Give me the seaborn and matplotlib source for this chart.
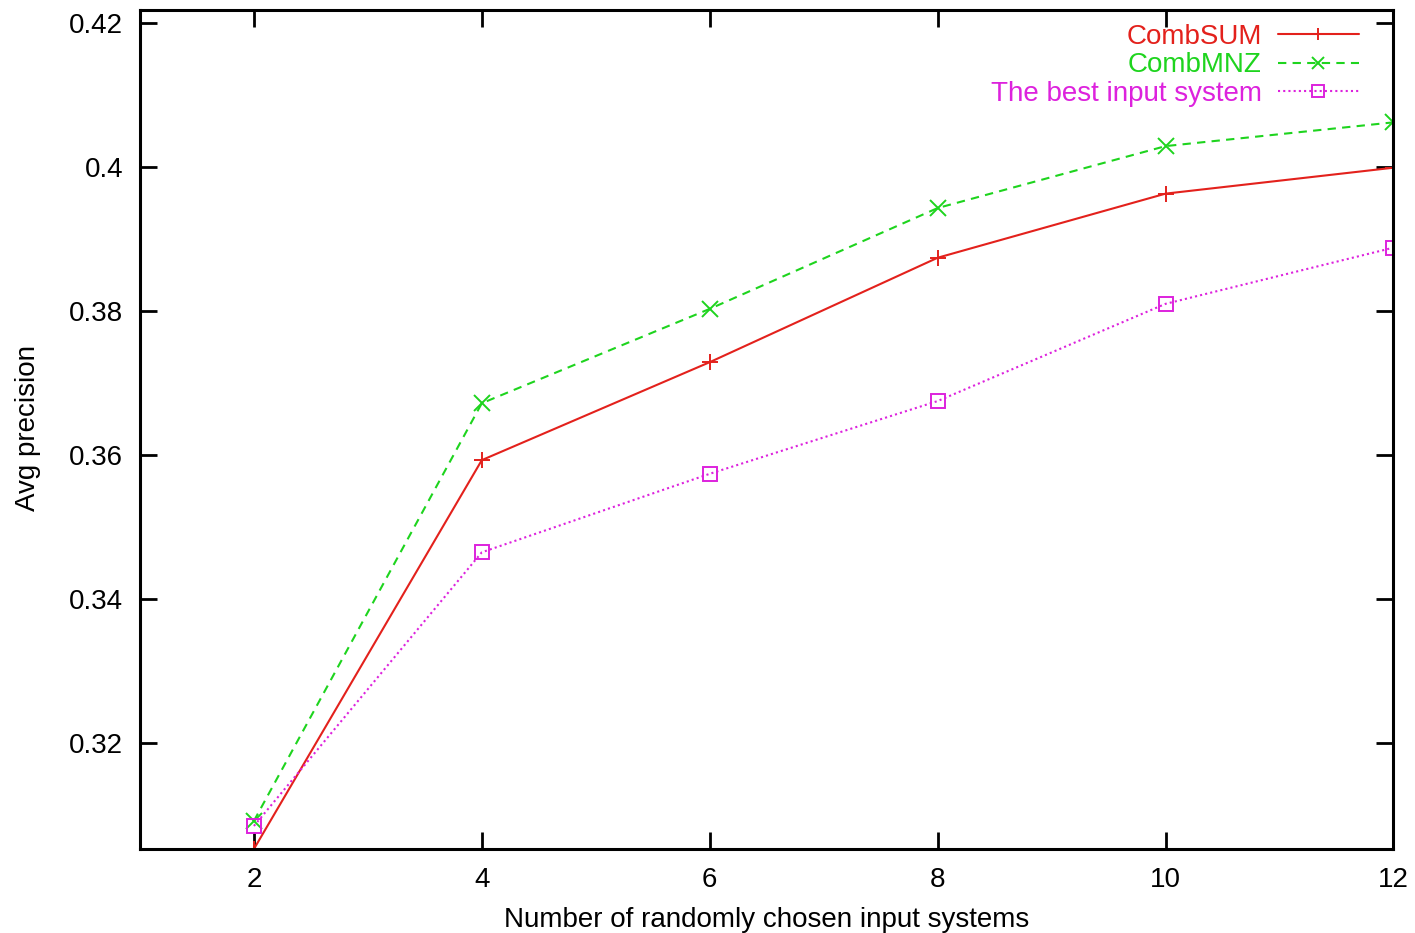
import matplotlib
matplotlib.use("Agg")
import matplotlib.pyplot as plt
import seaborn as sns
import pandas as pd

n_systems = [2, 4, 6, 8, 10, 12]
comb_sum = [0.3053, 0.3593, 0.3729, 0.3874, 0.3963, 0.3999]
comb_mnz = [0.3092, 0.3672, 0.3803, 0.3943, 0.4029, 0.4062]
best_input = [0.3085, 0.3465, 0.3574, 0.3675, 0.3810, 0.3888]

series = [
    ("CombSUM", comb_sum, "#e3211c", "-", "+"),
    ("CombMNZ", comb_mnz, "#1ed41e", (0, (4, 3)), "x"),
    ("The best input system", best_input, "#dd22dd", (0, (1, 1.5)), "s"),
]

sns.set_style("ticks")
plt.rcParams['font.family'] = ['Liberation Sans', 'DejaVu Sans']

f = plt.figure(figsize=(14.15, 9.33), dpi=100)
ax = f.add_axes([0.0989, 0.090, 0.9848 - 0.0989, 0.9893 - 0.090])

for name, vals, color, ls, mk in series:
    df = pd.DataFrame({"x": n_systems, "y": vals})
    sns.lineplot(data=df, x="x", y="y", ax=ax, color=color, linestyle=ls,
                 marker=mk, markersize=11 if mk != "s" else 10,
                 markerfacecolor="none" if mk == "s" else color,
                 markeredgecolor=color, markeredgewidth=1.4,
                 linewidth=1.5, label=name)

ax.set_xlim(1, 12)
ax.set_ylim(0.3053, 0.4218)
ax.set_xticks([2, 4, 6, 8, 10, 12])
ax.set_yticks([0.32, 0.34, 0.36, 0.38, 0.40, 0.42])
ax.set_yticklabels(["0.32", "0.34", "0.36", "0.38", "0.4", "0.42"])
ax.tick_params(direction="in", length=12, width=2, labelsize=20,
               top=True, right=True, colors="black")
ax.tick_params(axis="x", pad=13)
ax.tick_params(axis="y", pad=12)
for s in ax.spines.values():
    s.set_linewidth(2.2)
    s.set_color("black")
    s.set_visible(True)

ax.set_xlabel("Number of randomly chosen input systems", fontsize=20,
              labelpad=10, color="black")
ax.set_ylabel("Avg precision", fontsize=20, color="black")
ax.yaxis.set_label_coords(-0.079, 0.502)

leg = ax.legend(loc="upper right", frameon=False, markerfirst=False,
                labelcolor="linecolor", fontsize=20, handlelength=2.9,
                handletextpad=0.58, labelspacing=0.08, markerscale=0.85,
                borderaxespad=0.0, bbox_to_anchor=(0.981, 0.9964))

f.savefig("out.png", dpi=100, facecolor="white")
